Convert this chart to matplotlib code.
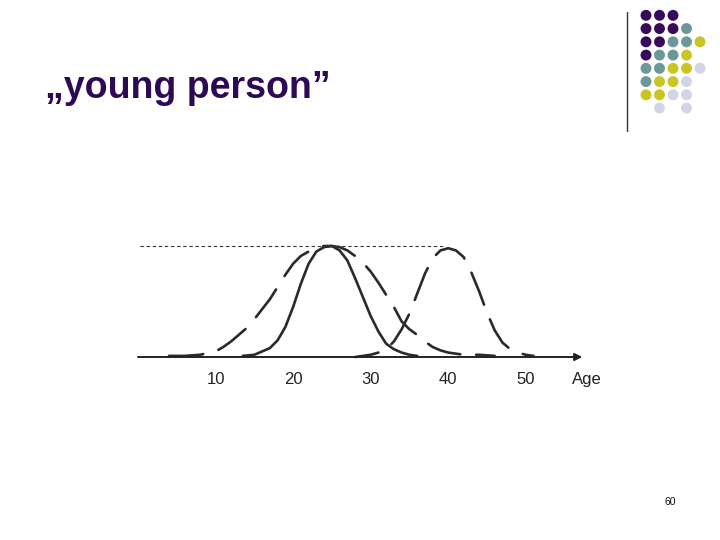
import matplotlib
matplotlib.use("Agg")
import matplotlib.pyplot as plt

# ---- data ----
title = "\u201eyoung person\u201d"
tick_ages = [10, 20, 30, 40, 50]
tick_labels = ["10", "20", "30", "40", "50"]
axis_label = "Age"
page_number = "60"

# solid curve (peak ~25)
ages_solid = [13.5, 15, 16, 17, 18, 19, 20, 21, 22, 23, 24, 25, 26, 27, 28, 29, 30,
              31, 32, 33, 34, 35, 36]
h_solid = [0.01, 0.02, 0.05, 0.08, 0.15, 0.27, 0.45, 0.66, 0.84, 0.95, 0.99, 1.0, 0.96,
           0.87, 0.71, 0.54, 0.37, 0.23, 0.12, 0.07, 0.04, 0.02, 0.01]

# wide dashed curve (peak ~25)
ages_wide = [4, 6, 8, 10, 11, 12, 13, 14, 15, 16, 17, 18, 19, 20, 21, 22, 23, 24, 25, 26,
             27, 28, 29, 30, 31, 32, 33, 34, 35, 36, 37, 38, 39, 40, 42, 44, 46]
h_wide = [0.01, 0.01, 0.02, 0.05, 0.09, 0.14, 0.20, 0.26, 0.34, 0.43, 0.52, 0.63, 0.74,
          0.84, 0.91, 0.95, 0.98, 1.0, 1.0, 0.99, 0.96, 0.91, 0.85, 0.77, 0.67, 0.56,
          0.45, 0.32, 0.25, 0.20, 0.14, 0.09, 0.06, 0.04, 0.02, 0.02, 0.01]

# dashed curve (peak ~40)
ages_old = [28, 30, 31, 32, 33, 34, 35, 36, 37, 38, 39, 40, 41, 42, 43, 44, 45, 46, 47,
            48, 49, 50, 51]
h_old = [0.0, 0.02, 0.04, 0.07, 0.14, 0.25, 0.39, 0.57, 0.75, 0.89, 0.96, 0.98, 0.96,
         0.90, 0.76, 0.59, 0.40, 0.24, 0.13, 0.07, 0.04, 0.02, 0.01]

ref_level = 1.0
ref_end_age = 39.6

# decorative dot grid (rows top->bottom), None = empty
P, T, Y, L = "#380a5c", "#6b9898", "#c9c623", "#d4d4e8"
dot_rows = [
    [P, P, P, None, None],
    [P, P, P, T, None],
    [P, P, T, T, Y],
    [P, T, T, Y, None],
    [T, T, Y, Y, L],
    [T, Y, Y, L, None],
    [Y, Y, L, L, None],
    [None, L, None, L, None],
]

# ---- figure ----
W, H = 720, 540
fig = plt.figure(figsize=(7.2, 5.4), dpi=100)
fig.patch.set_facecolor("white")

def px_axes(left, top, right, bottom):
    return fig.add_axes([left / W, 1 - bottom / H, (right - left) / W, (bottom - top) / H])

# chart axes: age 0 at px 138, age 57 at px 580; y 0 at px 357, y 1 at px 246
ax = px_axes(138, 246, 580, 357)
ax.set_xlim(0, 57)
ax.set_ylim(0, 1)
ax.axis("off")

line_col = "#2a2a2a"
ax.plot(ages_solid, h_solid, color=line_col, lw=1.9, solid_joinstyle="round",
        solid_capstyle="round", clip_on=False)
ax.plot(ages_wide, h_wide, color=line_col, lw=1.9, linestyle=(0, (13, 6)),
        dash_capstyle="round", clip_on=False)
ax.plot(ages_old, h_old, color=line_col, lw=1.9, linestyle=(4, (13, 6)),
        dash_capstyle="round", clip_on=False)

ax.plot([0.3, ref_end_age], [ref_level, ref_level], color="#333333", lw=0.8,
        linestyle=(0, (3, 2.5)), clip_on=False)

ax.annotate("", xy=(57.3, 0), xytext=(0, 0),
            arrowprops=dict(arrowstyle="-|>", lw=1.4, color="#222222",
                            mutation_scale=11, shrinkA=0, shrinkB=0),
            annotation_clip=False)

for a, lab in zip(tick_ages, tick_labels):
    ax.text(a, -0.205, lab, ha="center", va="center", fontsize=12,
            family="Liberation Sans", color="#222222")
ax.text(57.9, -0.205, axis_label, ha="center", va="center", fontsize=12,
        family="Liberation Sans", color="#222222")

# title
fig.text(45 / W, 1 - 98 / H, title, ha="left", va="baseline", fontsize=27,
         fontweight="bold", family="Liberation Sans", color="#2e0a55")

# vertical rule
rax = px_axes(622, 12, 632, 132)
rax.set_xlim(0, 1)
rax.set_ylim(0, 1)
rax.axis("off")
rax.plot([0.5, 0.5], [0, 1], color="#333333", lw=1.0)

# dot grid
dax = px_axes(639.25, 8.7, 706.75, 114.7)
dax.set_xlim(-0.5, 4.5)
dax.set_ylim(7.5, -0.5)
dax.axis("off")
for r, row in enumerate(dot_rows):
    for c, col in enumerate(row):
        if col is not None:
            dax.scatter([c], [r], s=62, color=col, edgecolors="none", clip_on=False)

fig.text(670 / W, 1 - 502 / H, page_number, ha="center", va="center", fontsize=7.5,
         family="Liberation Sans", color="#111111")

fig.savefig("out.png", dpi=100, facecolor="white")
